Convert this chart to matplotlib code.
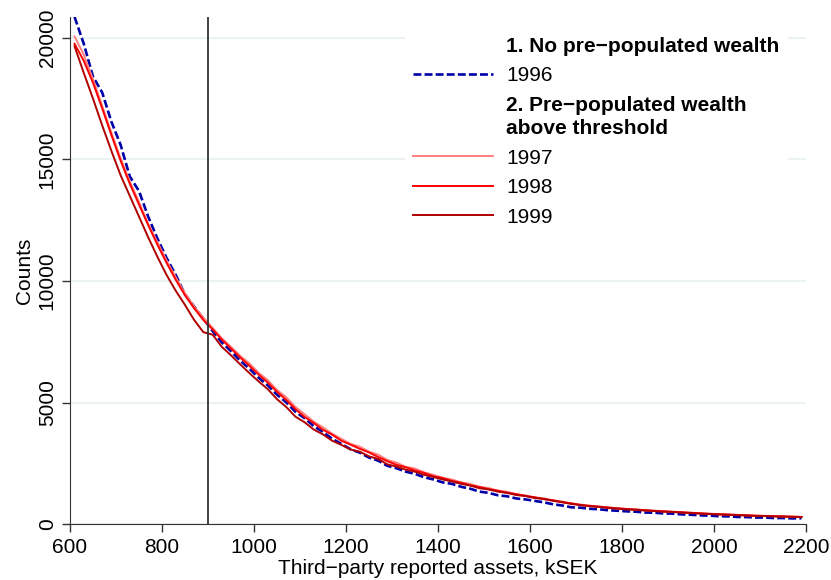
# Bunching plot: counts of third-party reported assets by year
import numpy as np
import matplotlib.pyplot as plt

plt.rcParams['font.family'] = ['Liberation Sans', 'DejaVu Sans']

# bin midpoints, kSEK (20 kSEK bins)
assets = np.arange(610, 2200, 20)

counts_1996 = [20850, 19750, 18400, 17750, 16550, 15600, 14300, 13700, 12650, 11750,
               10950, 10250, 9450, 8950, 8450, 7950, 7480, 7120, 6730, 6400,
               6030, 5720, 5330, 5020, 4630, 4370, 4040, 3800, 3520, 3310,
               3090, 2950, 2750, 2620, 2410, 2310, 2170, 2080, 1940, 1850,
               1730, 1670, 1550, 1470, 1350, 1300, 1200, 1160, 1070, 1030,
               970, 910, 830, 780, 705, 690, 645, 625, 585, 565,
               540, 525, 490, 485, 455, 445, 415, 400, 375, 365,
               340, 335, 310, 305, 285, 285, 265, 265, 250, 255]

counts_1997 = [20050, 19300, 18300, 17200, 16100, 15050, 14100, 13250, 12350, 11600,
               10850, 10150, 9500, 8950, 8500, 8080, 7650, 7300, 6930, 6620,
               6230, 5930, 5530, 5230, 4830, 4530, 4220, 3990, 3730, 3520,
               3310, 3200, 2990, 2870, 2650, 2540, 2370, 2300, 2140, 2040,
               1920, 1850, 1730, 1670, 1550, 1500, 1390, 1350, 1240, 1200,
               1110, 1075, 985, 945, 865, 820, 765, 745, 695, 675,
               635, 625, 585, 575, 540, 530, 500, 490, 455, 450,
               420, 415, 390, 385, 360, 358, 338, 336, 318, 315]

counts_1998 = [19750, 19050, 18150, 17100, 16000, 14950, 14000, 13150, 12300, 11500,
               10750, 10050, 9420, 8880, 8400, 8020, 7600, 7230, 6860, 6520,
               6160, 5830, 5450, 5120, 4740, 4420, 4170, 3890, 3690, 3440,
               3280, 3110, 2960, 2770, 2600, 2450, 2350, 2220, 2120, 1980,
               1910, 1790, 1720, 1610, 1540, 1450, 1390, 1300, 1250, 1170,
               1120, 1040, 1000, 910, 870, 795, 770, 725, 700, 655,
               640, 605, 590, 555, 545, 515, 505, 470, 460, 430,
               425, 400, 395, 370, 365, 345, 345, 325, 325, 305]

counts_1999 = [19650, 18550, 17500, 16400, 15350, 14350, 13500, 12650, 11800, 11000,
               10250, 9600, 9020, 8400, 7900, 7800, 7300, 6950, 6580, 6220,
               5880, 5560, 5150, 4830, 4430, 4200, 3900, 3700, 3440, 3270,
               3080, 2990, 2800, 2690, 2470, 2380, 2250, 2170, 2040, 1950,
               1850, 1770, 1670, 1600, 1490, 1440, 1350, 1300, 1210, 1170,
               1090, 1050, 970, 920, 840, 800, 745, 725, 675, 655,
               620, 605, 570, 555, 525, 515, 485, 475, 445, 435,
               410, 405, 380, 375, 350, 350, 330, 330, 310, 310]

threshold = 900

fig = plt.figure(figsize=(8.31, 5.80), dpi=100)
ax = fig.add_axes([0.0842, 0.0957, 0.8858, 0.875])

ax.plot(assets, counts_1996, color='#0000a8', lw=1.9, ls=(0, (3, 1.2)), label='1996')
ax.plot(assets, counts_1997, color='#ff8080', lw=1.4, label='1997')
ax.plot(assets, counts_1998, color='#ff0000', lw=1.4, label='1998')
ax.plot(assets, counts_1999, color='#b00000', lw=1.4, label='1999')
ax.axvline(threshold, color='#333333', lw=1.3)

ax.set_xlim(600, 2200)
ax.set_ylim(0, 20850)
ax.set_xticks(range(600, 2201, 200))
ax.set_yticks(range(0, 20001, 5000))
ax.tick_params(axis='both', labelsize=15, length=6, width=1, color='#333333')
ax.tick_params(axis='x', pad=4)
for lab in ax.get_yticklabels():
    lab.set_rotation(90)
    lab.set_va('center')
ax.grid(axis='y', color='#eaf2f3', lw=1.5)
ax.set_axisbelow(True)
for s in ['top', 'right']:
    ax.spines[s].set_visible(False)
for s in ['left', 'bottom']:
    ax.spines[s].set_color('#333333')

ax.set_xlabel('Third\u2212party reported assets, kSEK', fontsize=15, labelpad=1)
ax.set_ylabel('Counts', fontsize=15, labelpad=3)

# legend with group headers
blank = plt.Line2D([], [], color='none')
h = ax.get_legend_handles_labels()[0]
handles = [blank, h[0], blank, h[1], h[2], h[3]]
labels = ['1. No pre\u2212populated wealth', '1996',
          '2. Pre\u2212populated wealth\nabove threshold', '1997', '1998', '1999']
leg = ax.legend(handles, labels, loc='upper left', bbox_to_anchor=(0.455, 0.977),
                fontsize=15, handlelength=3.85, handletextpad=0.62, labelspacing=0.5,
                borderaxespad=0, frameon=True, facecolor='white', edgecolor='none',
                framealpha=1, fancybox=False)
for i in (0, 2):
    leg.get_texts()[i].set_fontweight('bold')
leg.get_texts()[2].set_linespacing(1.3)

plt.savefig('out.png', dpi=100)
